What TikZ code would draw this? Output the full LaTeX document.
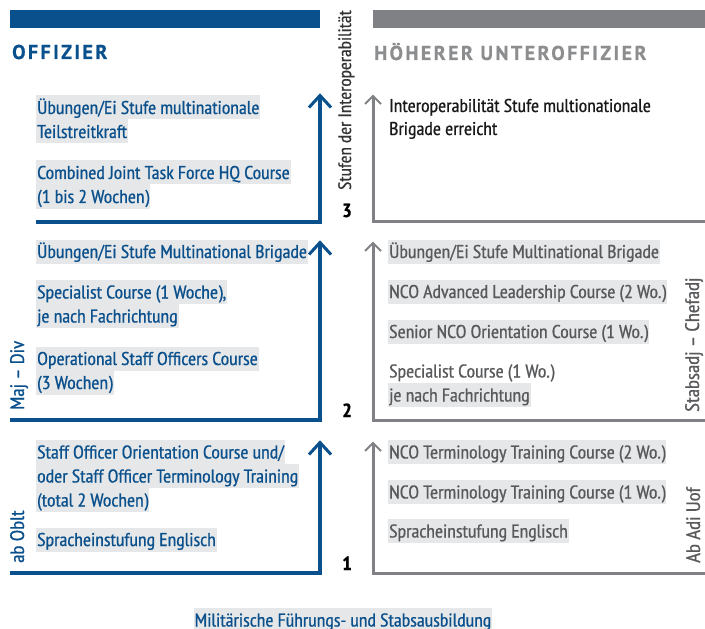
\documentclass[tikz,border=0pt]{standalone}
\usepackage{fontspec}
\setmainfont{PT Sans Narrow}[FakeStretch=1.06, FakeBold=0.7]
\newfontfamily\titlefont[LetterSpace=12, FakeBold=0.6]{PT Sans}
\definecolor{bwblue}{RGB}{10,80,140}
\definecolor{bargray}{RGB}{128,129,132}
\definecolor{titlegray}{RGB}{140,141,143}
\definecolor{txtgray}{RGB}{88,89,91}
\definecolor{hlgray}{RGB}{230,231,232}
\begin{document}
\begin{tikzpicture}[x=1bp,y=-1bp,
  base/.style={anchor=base west, inner xsep=1bp, inner ysep=0pt, text height=18.5bp, text depth=5.5bp, font=\fontsize{18.5bp}{24bp}\selectfont},
  bluetxt/.style={base, fill=hlgray, text=bwblue},
  graytxt/.style={base, fill=hlgray, text=txtgray},
  plaingray/.style={base, text=txtgray},
  blacktxt/.style={base, text=black!90},
  rot/.style={anchor=base west, rotate=90, inner sep=0pt, font=\fontsize{19.5bp}{22bp}\selectfont},
  num/.style={anchor=base, inner sep=0pt, font=\fontsize{19bp}{22bp}\selectfont\bfseries, text=black},
  bline/.style={draw=bwblue, line width=3.5bp},
  gline/.style={draw=bargray, line width=3bp},
  bhead/.style={draw=bwblue, line width=3bp, line join=miter},
  ghead/.style={draw=bargray, line width=2bp, line join=miter},
  title/.style={anchor=base west, inner sep=0pt, font=\fontsize{20bp}{22bp}\titlefont\bfseries}
]
\useasboundingbox (0,0) rectangle (705,629);
% header bars
\fill[bwblue] (10,10) rectangle (320,28);
\fill[bargray] (373,10) rectangle (705,28);
\node[title, text=bwblue] (toff) at (12,59) {OFFIZIER};
\node[title, text=titlegray] (tuof) at (374,60) {HÖHERER UNTEROFFIZIER};

% ---------- left (blue) frames ----------
\coordinate (b3s) at (36,222);  \coordinate (b3t) at (320,96);
\coordinate (b2s) at (10,420);  \coordinate (b2t) at (320,243);
\coordinate (b1s) at (10,573);  \coordinate (b1t) at (320,443);
\draw[bline] (b3s) -| (b3t);
\draw[bline] (b2s) -| (b2t);
\draw[bline] (b1s) -| (b1t);
\foreach \t in {b3t,b2t,b1t}{
  \draw[bhead] ([shift={(-11,11.5)}]\t) -- ([shift={(0,-0.5)}]\t) -- ([shift={(11,11.5)}]\t);
}

% ---------- right (gray) frames ----------
\coordinate (g3t) at (373,97);  \coordinate (g3e) at (705,221);
\coordinate (g2t) at (373,244); \coordinate (g2e) at (705,420);
\coordinate (g1t) at (373,444); \coordinate (g1e) at (705,573);
\draw[gline] (g3t) |- (g3e);
\draw[gline] (g2t) |- (g2e);
\draw[gline] (g1t) |- (g1e);
\foreach \t in {g3t,g2t,g1t}{
  \draw[ghead] ([shift={(-8,7)}]\t) -- ([shift={(0,-1)}]\t) -- ([shift={(8,7)}]\t);
}

% ---------- center ----------
\node[rot, text=black!80, font=\fontsize{18bp}{22bp}\selectfont] (stufen) at (351,190) {Stufen der Interoperabilität};
\node[num] (n3) at (347,217) {3};
\node[num] (n2) at (347,417) {2};
\node[num] (n1) at (347,570) {1};

% ---------- side labels ----------
\node[rot, text=bwblue] (maj) at (24,410) {Maj – Div};
\node[rot, text=bwblue] (oblt) at (24,563) {ab Oblt};
\node[rot, text=txtgray] (stabs) at (699,412) {Stabsadj – Chefadj};
\node[rot, text=txtgray] (adi) at (700,563) {Ab Adi Uof};

% ---------- left texts ----------
\node[bluetxt] (l3a) at (36,114) {Übungen/Ei Stufe multinationale};
\node[bluetxt] (l3b) at (36,138) {Teilstreitkraft};
\node[bluetxt] (l3c) at (36,179) {Combined Joint Task Force HQ Course};
\node[bluetxt] (l3d) at (36,203) {(1 bis 2 Wochen)};

\node[bluetxt] (l2a) at (36,258) {Übungen/Ei Stufe Multinational Brigade};
\node[bluetxt] (l2b) at (36,298.5) {Specialist Course (1 Woche),};
\node[bluetxt] (l2c) at (36,322.5) {je nach Fachrichtung};
\node[bluetxt] (l2d) at (36,365) {Operational Staff Officers Course};
\node[bluetxt] (l2e) at (36,389) {(3 Wochen)};

\node[bluetxt] (l1a) at (36,458.5) {Staff Officer Orientation Course und/};
\node[bluetxt] (l1b) at (36,482.5) {oder Staff Officer Terminology Training};
\node[bluetxt] (l1c) at (36,506.5) {(total 2 Wochen)};
\node[bluetxt] (l1d) at (36,546) {Spracheinstufung Englisch};

% ---------- right texts ----------
\node[blacktxt] (r3a) at (388,112) {Interoperabilität Stufe multionationale};
\node[blacktxt] (r3b) at (388,135) {Brigade erreicht};

\node[graytxt] (r2a) at (388,258) {Übungen/Ei Stufe Multinational Brigade};
\node[graytxt] (r2b) at (388,298) {NCO Advanced Leadership Course (2 Wo.)};
\node[graytxt] (r2c) at (388,338) {Senior NCO Orientation Course (1 Wo.)};
\node[plaingray] (r2d) at (388,377.5) {Specialist Course (1 Wo.)};
\node[graytxt] (r2e) at (388,401.5) {je nach Fachrichtung};

\node[graytxt] (r1a) at (388,458.5) {NCO Terminology Training Course (2 Wo.)};
\node[graytxt] (r1b) at (388,498.5) {NCO Terminology Training Course (1 Wo.)};
\node[graytxt] (r1c) at (388,537.5) {Spracheinstufung Englisch};

% ---------- caption ----------
\node[bluetxt, anchor=base] (cap) at (343,626.5) {Militärische Führungs- und Stabsausbildung};
\end{tikzpicture}
\end{document}
